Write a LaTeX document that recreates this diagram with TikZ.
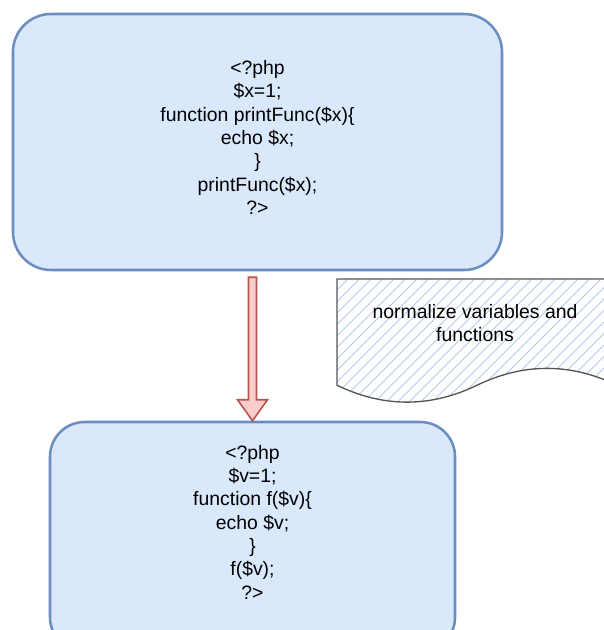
\documentclass[tikz,border=0pt]{standalone}
\usepackage{fontspec}
\setmainfont{Liberation Sans}
\usetikzlibrary{calc}

\definecolor{boxfill}{HTML}{DAE8FC}
\definecolor{boxline}{HTML}{6C8EBF}
\definecolor{arrowfill}{HTML}{F8CECC}
\definecolor{arrowline}{HTML}{B85450}
\definecolor{hatchline}{HTML}{B3CBEC}
\definecolor{docline}{HTML}{555555}

\tikzset{
  codebox/.style={draw=boxline, fill=boxfill, line width=1.9pt, inner sep=0pt},
  codetext/.style={align=center, inner sep=0pt,
    font=\fontsize{14.55pt}{17.5pt}\selectfont},
  blockarrow/.style={draw=arrowline, fill=arrowfill, line width=1.2pt, line join=miter},
  docshape/.style={draw=docline, line width=1pt},
  hatch/.style={draw=hatchline, line width=0.75pt},
}

\begin{document}
\begin{tikzpicture}[x=0.75pt, y=-0.75pt]
  \useasboundingbox (0,0) rectangle (603,630);

  % original source
  \node[codebox, rounded corners=28.5pt, minimum width=366.75pt, minimum height=192pt]
    (top) at (257.5,142) {};
  \node[codetext] (toptext) at (257.5,137.5)
    {<?php\\ \$x=1;\\ function printFunc(\$x)\{\\ echo \$x;\\ \}\\ printFunc(\$x);\\ ?>};

  % normalized source
  \node[codebox, rounded corners=26pt, minimum width=303.75pt, minimum height=172.5pt]
    (bot) at (252.5,537) {};
  \node[codetext] (bottext) at (252.5,522)
    {<?php\\ \$v=1;\\ function f(\$v)\{\\ echo \$v;\\ \}\\ f(\$v);\\ ?>};

  % block arrow between the two listings
  \draw[blockarrow]
    ($(bot.north |- top.south)+(-4,6)$) -- ($(bot.north)+(-4,-21)$)
    -- ($(bot.north)+(-15,-21)$) -- (bot.north) -- ($(bot.north)+(15,-21)$)
    -- ($(bot.north)+(4,-21)$) -- ($(bot.north |- top.south)+(4,6)$) -- cycle;

  % document shape with hatched fill
  \def\docpath{(337,279) -- (617,279) -- (617,385.25)
    .. controls (570.33,362.75) and (523.67,362.75) .. (477,385.25)
    .. controls (430.33,407.75) and (383.67,407.75) .. (337,385.25) -- cycle}
  \begin{scope}
    \clip \docpath;
    \foreach \c in {184,195.5,...,630}
      \draw[hatch] (\c,420) -- (\c+150,270);
  \end{scope}
  \draw[docshape] \docpath;
  \node[codetext] (note) at (475,323) {normalize variables and\\ functions};
\end{tikzpicture}
\end{document}
